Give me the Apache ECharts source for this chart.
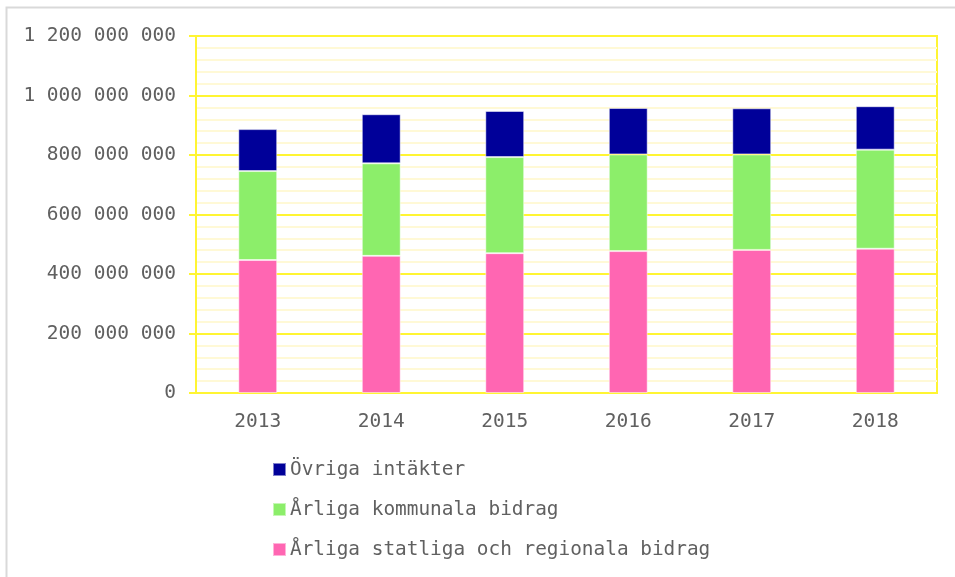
<!DOCTYPE html>
<html>
<head>
<meta charset="utf-8">
<script src="https://cdn.jsdelivr.net/npm/echarts@6/dist/echarts.min.js"></script>
<style>
  html, body { margin: 0; padding: 0; background: #fff; }
  #chart { width: 955px; height: 577px; }
</style>
</head>
<body>
<div id="chart"></div>
<script>
const years = ['2013', '2014', '2015', '2016', '2017', '2018'];
const statliga = [447000000, 461000000, 470000000, 477000000, 481000000, 485000000];
const kommunala = [299000000, 311000000, 323000000, 325000000, 321000000, 333000000];
const ovriga = [141000000, 165000000, 155000000, 156000000, 155000000, 146000000];

const names = ['Övriga intäkter', 'Årliga kommunala bidrag', 'Årliga statliga och regionala bidrag'];
const colors = ['#000099', '#8cee6a', '#ff66b2'];

const font = 'DejaVu Sans Mono';
const yellow = '#fff533';
const textColor = '#606060';

const chart = echarts.init(document.getElementById('chart'));

function fmt(v) {
    return String(v).replace(/\B(?=(\d{3})+(?!\d))/g, ' ');
}

function barSeries(name, data, color) {
    return {
        name: name,
        type: 'bar',
        stack: 'total',
        data: data,
        barWidth: '31.5%',
        itemStyle: {
            color: color,
            borderColor: 'rgba(255,255,255,0.5)',
            borderWidth: 1
        }
    };
}

chart.setOption({
    animation: false,
    textStyle: { fontFamily: font },
    graphic: [{
        type: 'rect',
        shape: { x: 6.5, y: 7.5, width: 1000, height: 600 },
        style: { fill: 'none', stroke: '#d9d9d9', lineWidth: 2 }
    }],
    grid: {
        left: 196, right: 18, top: 36, bottom: 184,
        show: true, borderColor: yellow, borderWidth: 2
    },
    legend: {
        orient: 'vertical',
        left: 272,
        top: 460,
        padding: 0,
        itemWidth: 13,
        itemHeight: 13,
        itemGap: 21,
        icon: 'rect',
        data: names,
        textStyle: { fontFamily: font, fontSize: 19.4, color: textColor, padding: [0, 0, 0, -1] }
    },
    xAxis: {
        type: 'category',
        data: years,
        axisLine: { lineStyle: { color: yellow, width: 2 } },
        axisTick: { show: false },
        axisLabel: { fontFamily: font, fontSize: 19.5, color: textColor, margin: 19 }
    },
    yAxis: {
        type: 'value',
        min: 0,
        max: 1200000000,
        interval: 200000000,
        axisLine: { show: true, lineStyle: { color: yellow, width: 2 } },
        axisTick: { show: true, length: 7, lineStyle: { color: yellow, width: 2 } },
        splitLine: { lineStyle: { color: yellow, width: 2 } },
        minorTick: { show: false, splitNumber: 5 },
        minorSplitLine: { show: true, lineStyle: { color: '#fff9d6', width: 2 } },
        axisLabel: { fontFamily: font, fontSize: 19.5, color: textColor, margin: 20, formatter: fmt }
    },
    series: [
        barSeries(names[2], statliga, colors[2]),
        barSeries(names[1], kommunala, colors[1]),
        barSeries(names[0], ovriga, colors[0])
    ]
});
</script>
</body>
</html>
